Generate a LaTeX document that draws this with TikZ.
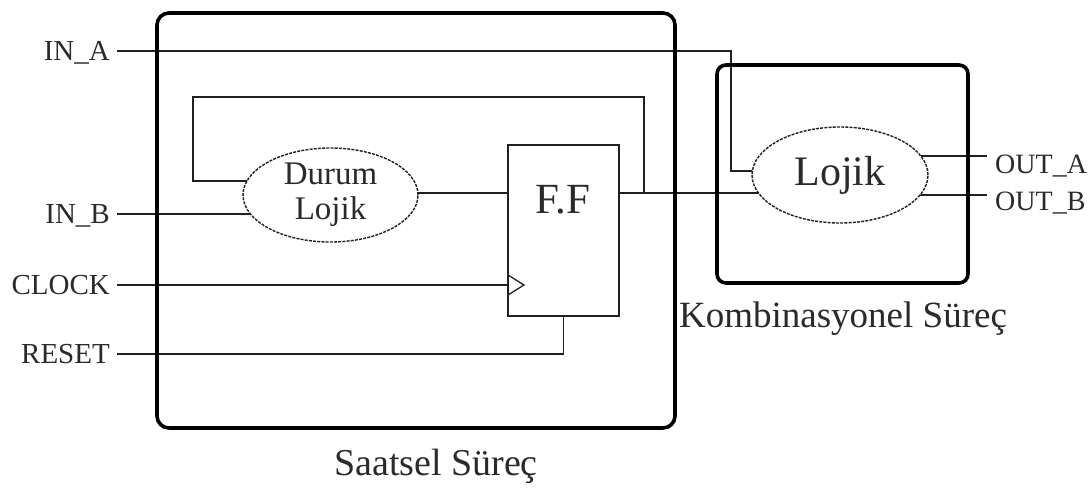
\documentclass[tikz,border=0pt]{standalone}
\usepackage{fontspec}
\setmainfont{Liberation Serif}
\usetikzlibrary{shapes.geometric,backgrounds}

\definecolor{wirecol}{HTML}{202020}
\definecolor{txtcol}{HTML}{2A2A2A}

\tikzset{
  wire/.style={draw=wirecol, line width=1.8pt},
  frame/.style={draw=black, line width=3.6pt, rounded corners=12pt},
  logic/.style={ellipse, draw=wirecol, line width=1.4pt,
    dash pattern=on 3pt off 1.2pt, fill=white, inner sep=0pt, text=txtcol},
  flipflop/.style={rectangle, draw=wirecol, line width=1.8pt, fill=white,
    minimum width=111pt, minimum height=171pt, inner sep=0pt},
  pinin/.style={anchor=east, text=txtcol, font=\fontsize{29}{32}\selectfont,
    inner xsep=7pt, inner ysep=0pt, text height=19.2pt, text depth=0pt},
  pinout/.style={anchor=west, text=txtcol, font=\fontsize{28}{32}\selectfont,
    inner xsep=8pt, inner ysep=0pt, text height=18.5pt, text depth=0pt},
  caption/.style={text=txtcol, font=\fontsize{38}{42}\selectfont,
    inner sep=0pt, text height=25pt, text depth=0pt},
}

\begin{document}
\begin{tikzpicture}[x=1pt,y=-1pt]
\useasboundingbox (0,0) rectangle (1092,488);

% process frames
\draw[frame] (157,13) rectangle (675,428);
\draw[frame, rounded corners=9pt] (717,65) rectangle (968,283);

% frame captions
\node[caption] (saatsel) at (436,463) {Saatsel Süreç};
\node[caption, font=\fontsize{37}{41}\selectfont] (komb) at (843,315) {Kombinasyonel Süreç};

% logic blocks
\node[logic, minimum width=175pt, minimum height=94pt, align=center,
      font=\fontsize{33}{35}\selectfont] (durum) at (330.5,195) {Durum\\Lojik};
\node[logic, minimum width=176pt, minimum height=96pt,
      font=\fontsize{42}{44}\selectfont] (lojik) at (840,175) {Lojik};

% flip-flop
\node[flipflop] (ff) at (563.5,230.5) {};
\node[text=txtcol, font=\fontsize{43}{46}\selectfont, inner sep=0pt] (fftext) at (563,200) {F.F};
\draw[wirecol, line width=1.3pt] (508,275) -- (524,285) -- (508,295);

% input and output pins
\node[pinin] (ina) at (117,51) {IN\_A};
\node[pinin] (inb) at (117,214) {IN\_B};
\node[pinin] (clock) at (117,285) {CLOCK};
\node[pinin] (reset) at (117,354) {RESET};
\node[pinout] (outa) at (987,164) {OUT\_A};
\node[pinout] (outb) at (987,201) {OUT\_B};

% routing points
\coordinate (ajog) at (731,171);
\coordinate (yq) at (0,193);
\coordinate (fb) at (644,193);
\coordinate (looptop) at (193,97);
\coordinate (loopl) at (193,181);
\coordinate (oa) at (987,156);
\coordinate (ob) at (987,195);

\begin{scope}[on background layer]
  \fill[white] (0,0) rectangle (1092,488);
  \draw[wire] (ina.east) -| (ajog) -- (ajog -| lojik.center);
  \draw[wire] (inb.east) -- (inb.east -| durum.center);
  \draw[wire] (clock.east) -- (clock.east -| ff.west);
  \draw[wire] (reset.east) -| (ff.south);
  \draw[wire] (durum.center |- yq) -- (ff.west |- yq);
  \draw[wire] (ff.east |- yq) -- (lojik.center |- yq);
  \draw[wire] (fb) -- (fb |- looptop) -| (loopl) -- (loopl -| durum.center);
  \draw[wire] (lojik.center |- oa) -- (oa);
  \draw[wire] (lojik.center |- ob) -- (ob);
\end{scope}
\end{tikzpicture}
\end{document}
